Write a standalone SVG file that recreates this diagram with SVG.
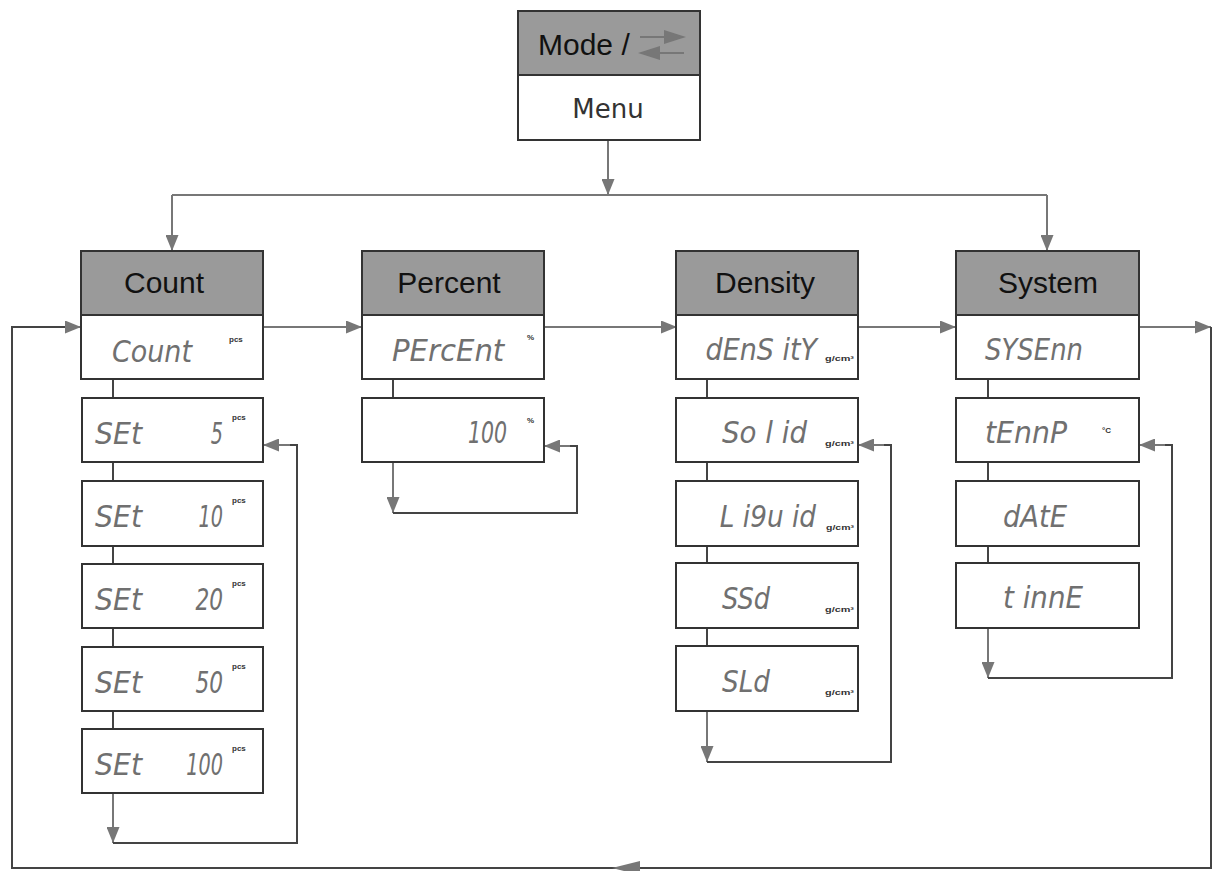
<svg xmlns="http://www.w3.org/2000/svg" width="1213" height="871" viewBox="0 0 1213 871">
<style>
.box{fill:#fff;stroke:#333;stroke-width:2}
.hdr{fill:#9a9a9a;stroke:#333;stroke-width:2}
.ht{font-family:"Liberation Sans",Arial,sans-serif;font-size:30px;fill:#111}
.lcd{font-family:"DejaVu Sans","Liberation Sans",sans-serif;font-style:italic;font-size:31px;fill:#707070;font-weight:200}
.e{text-anchor:end}
.u{font-family:"Liberation Sans",Arial,sans-serif;font-size:8px;font-weight:bold;fill:#333}
.ln{fill:none;stroke:#777;stroke-width:2}
.lk{fill:none;stroke:#444;stroke-width:2}
</style>
<defs>
<marker id="ah" viewBox="0 0 16 13" refX="16" refY="6.5" markerWidth="16" markerHeight="13" markerUnits="userSpaceOnUse" orient="auto">
<path d="M0,0 L16,6.5 L0,13 Z" fill="#777"/>
</marker>
</defs>
<rect width="1213" height="871" fill="#fff"/>
<g id="connectors">
<path class="ln" d="M608,140 V195" marker-end="url(#ah)"/>
<path class="ln" d="M172,195 H1047"/>
<path class="ln" d="M172,195 V251" marker-end="url(#ah)"/>
<path class="ln" d="M1047,195 V251" marker-end="url(#ah)"/>
<path class="ln" d="M263,327 H362" marker-end="url(#ah)"/>
<path class="ln" d="M544,327 H677" marker-end="url(#ah)"/>
<path class="ln" d="M858,327 H956" marker-end="url(#ah)"/>
<path class="ln" d="M1139,327 H1211" marker-end="url(#ah)"/>
<path class="lk" d="M1211,327 V868 H12 V327 H70"/>
<path class="ln" d="M70,327 H81" marker-end="url(#ah)"/>
<path d="M612,868 L640,861 L640,875 Z" fill="#777"/>
<path class="lk" d="M113,379 V398 M113,462 V481 M113,546 V564 M113,628 V647 M113,711 V729"/>
<path class="ln" d="M113,793 V843" marker-end="url(#ah)"/>
<path class="lk" d="M113,843 H297 V445 H277"/>
<path class="ln" d="M290,445 H263" marker-end="url(#ah)"/>
<path class="lk" d="M393,379 V398"/>
<path class="ln" d="M393,462 V513" marker-end="url(#ah)"/>
<path class="lk" d="M393,513 H577 V446 H560"/>
<path class="ln" d="M570,446 H544" marker-end="url(#ah)"/>
<path class="lk" d="M707,379 V398 M707,462 V481 M707,546 V563 M707,628 V646"/>
<path class="ln" d="M707,711 V762" marker-end="url(#ah)"/>
<path class="lk" d="M707,762 H891 V445 H875"/>
<path class="ln" d="M884,445 H858" marker-end="url(#ah)"/>
<path class="lk" d="M988,379 V398 M988,462 V481 M988,546 V563"/>
<path class="ln" d="M988,628 V678" marker-end="url(#ah)"/>
<path class="lk" d="M988,678 H1172 V445 H1155"/>
<path class="ln" d="M1165,445 H1139" marker-end="url(#ah)"/>
</g>
<g id="mode">
<rect class="hdr" x="518" y="11" width="182" height="64"/>
<rect class="box" x="518" y="75" width="182" height="65"/>
<text class="ht" x="538" y="55">Mode /</text>
<path d="M640,37 H668" stroke="#777" stroke-width="2"/>
<path d="M686,37 L664,30 L664,44 Z" fill="#777"/>
<path d="M656,53 H684" stroke="#777" stroke-width="2"/>
<path d="M638,53 L660,46 L660,60 Z" fill="#777"/>
<text x="608" y="118" text-anchor="middle" font-family="DejaVu Sans,sans-serif" font-size="26" fill="#333">Menu</text>
</g>
<g id="count">
<rect class="hdr" x="81" y="251" width="182" height="64"/>
<rect class="box" x="81" y="315" width="182" height="64"/>
<text class="ht" x="164" y="293" text-anchor="middle">Count</text>
<text class="lcd" x="112" y="362" textLength="80" lengthAdjust="spacingAndGlyphs">Count</text>
<text class="u" x="229" y="342">pcs</text>
</g>
<g id="set5"><rect class="box" x="82" y="398" width="181" height="64"/>
<text class="lcd" x="95" y="444" textLength="47" lengthAdjust="spacingAndGlyphs">SEt</text>
<text class="lcd e" transform="translate(223,444) scale(0.62,1)">5</text><text class="u" x="232" y="420">pcs</text></g>
<g id="set10"><rect class="box" x="82" y="481" width="181" height="65"/>
<text class="lcd" x="95" y="527" textLength="47" lengthAdjust="spacingAndGlyphs">SEt</text>
<text class="lcd e" transform="translate(223,527) scale(0.62,1)">10</text>
<text class="u" x="232" y="503">pcs</text></g>
<g id="set20"><rect class="box" x="82" y="564" width="181" height="64"/>
<text class="lcd" x="95" y="610" textLength="47" lengthAdjust="spacingAndGlyphs">SEt</text>
<text class="lcd e" transform="translate(223,610) scale(0.7,1)">20</text><text class="u" x="232" y="586">pcs</text></g>
<g id="set50"><rect class="box" x="82" y="647" width="181" height="64"/>
<text class="lcd" x="95" y="693" textLength="47" lengthAdjust="spacingAndGlyphs">SEt</text>
<text class="lcd e" transform="translate(223,693) scale(0.7,1)">50</text><text class="u" x="232" y="669">pcs</text></g>
<g id="set100"><rect class="box" x="82" y="729" width="181" height="64"/>
<text class="lcd" x="95" y="775" textLength="47" lengthAdjust="spacingAndGlyphs">SEt</text>
<text class="lcd e" transform="translate(223,775) scale(0.62,1)">100</text><text class="u" x="232" y="751">pcs</text></g>
<g id="percent">
<rect class="hdr" x="362" y="251" width="182" height="64"/>
<rect class="box" x="362" y="315" width="182" height="64"/>
<text class="ht" x="449" y="293" text-anchor="middle">Percent</text>
<text class="lcd" transform="translate(392,361) scale(0.94,1)">PErcEnt</text>
<text class="u" x="527" y="340">%</text>
</g>
<g id="p100"><rect class="box" x="362" y="398" width="182" height="64"/>
<text class="lcd e" transform="translate(507,443) scale(0.66,1)">100</text><text class="u" x="527" y="423">%</text></g>
<g id="density">
<rect class="hdr" x="676" y="251" width="182" height="64"/>
<rect class="box" x="676" y="315" width="182" height="64"/>
<text class="ht" x="765" y="293" text-anchor="middle">Density</text>
<text class="lcd e" transform="translate(817,360) scale(0.87,1)">dEnS itY</text>
<text class="u" x="825" y="361" textLength="29" lengthAdjust="spacingAndGlyphs">g/cm³</text>
</g>
<g id="solid"><rect class="box" x="676" y="398" width="182" height="64"/>
<text class="lcd" x="722" y="443" textLength="85" lengthAdjust="spacingAndGlyphs">So l id</text>
<text class="u" x="825" y="446" textLength="29" lengthAdjust="spacingAndGlyphs">g/cm³</text></g>
<g id="liquid"><rect class="box" x="676" y="481" width="182" height="65"/>
<text class="lcd e" transform="translate(816,527) scale(0.85,1)">L i9u id</text>
<text class="u" x="826" y="530" textLength="28" lengthAdjust="spacingAndGlyphs">g/cm³</text></g>
<g id="ssd"><rect class="box" x="676" y="563" width="182" height="65"/>
<text class="lcd" x="722" y="609" textLength="48" lengthAdjust="spacingAndGlyphs">SSd</text>
<text class="u" x="825" y="612" textLength="29" lengthAdjust="spacingAndGlyphs">g/cm³</text></g>
<g id="sld"><rect class="box" x="676" y="646" width="182" height="65"/>
<text class="lcd" x="722" y="692" textLength="48" lengthAdjust="spacingAndGlyphs">SLd</text>
<text class="u" x="825" y="695" textLength="29" lengthAdjust="spacingAndGlyphs">g/cm³</text></g>
<g id="system">
<rect class="hdr" x="956" y="251" width="183" height="64"/>
<rect class="box" x="956" y="315" width="183" height="64"/>
<text class="ht" x="1048" y="293" text-anchor="middle">System</text>
<text class="lcd" x="985" y="360" textLength="98" lengthAdjust="spacingAndGlyphs">SYSEnn</text>
</g>
<g id="temp"><rect class="box" x="956" y="398" width="183" height="64"/>
<text class="lcd" x="985" y="443" textLength="82" lengthAdjust="spacingAndGlyphs">tEnnP</text>
<text class="u" x="1102" y="433">°C</text></g>
<g id="date"><rect class="box" x="956" y="481" width="183" height="65"/>
<text class="lcd" x="1003" y="527" textLength="64" lengthAdjust="spacingAndGlyphs">dAtE</text></g>
<g id="time"><rect class="box" x="956" y="563" width="183" height="65"/>
<text class="lcd" x="1003" y="608" textLength="80" lengthAdjust="spacingAndGlyphs">t innE</text></g>
</svg>
